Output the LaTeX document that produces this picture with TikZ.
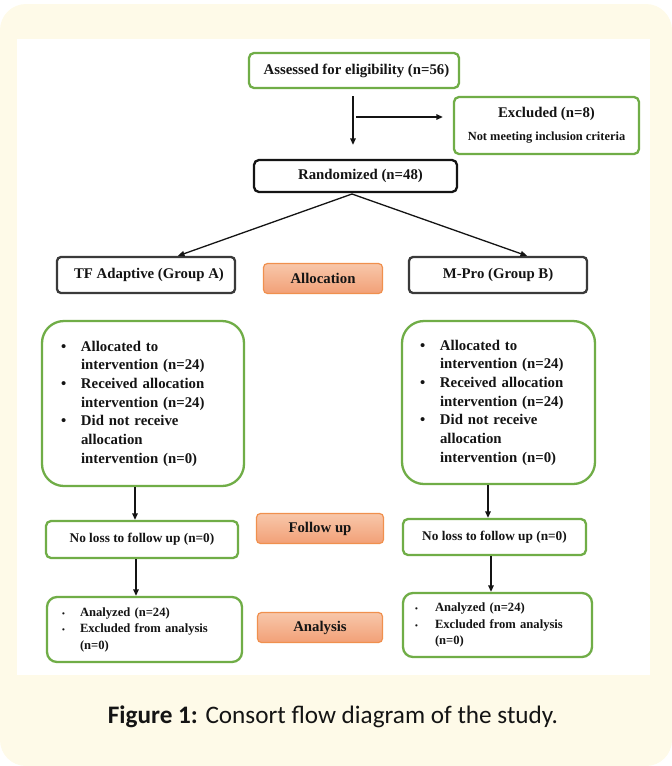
\documentclass[tikz,border=0pt]{standalone}
\usepackage{fontspec}
\setmainfont{Liberation Serif}
\newfontfamily\capfont{Carlito}
\usetikzlibrary{arrows.meta,calc}
\definecolor{cream}{HTML}{FEFAE8}
\definecolor{cgreen}{HTML}{70AD47}
\definecolor{txt}{HTML}{141414}
\definecolor{dgray}{HTML}{3A3A3A}
\definecolor{oborder}{HTML}{F0904E}
\definecolor{otop}{HTML}{F8C7AA}
\definecolor{obot}{HTML}{F2A077}
\newcommand{\fbig}{\fontsize{14.8}{18.7}\selectfont}
\newcommand{\fsmall}{\fontsize{12.6}{16.5}\selectfont}
\begin{document}
\begin{tikzpicture}[x=1pt,y=-1pt,
  basebox/.style={fill=white, line width=2.3pt, inner sep=0pt, text=txt, font=\bfseries\fbig},
  gbox/.style={basebox, draw=cgreen, rounded corners=5pt},
  kbox/.style={basebox, draw=txt, rounded corners=5pt},
  tbox/.style={basebox, draw=dgray, rounded corners=4pt},
  obox/.style={draw=oborder, line width=1.2pt, top color=otop, bottom color=obot, rounded corners=4pt, inner sep=0pt, text=txt, font=\bfseries\fbig},
  bigbox/.style={gbox, rounded corners=22pt, align=left, inner xsep=19pt},
  anbox/.style={gbox, rounded corners=10pt, align=left, inner xsep=15pt, font=\bfseries\fsmall},
  conn/.style={draw=txt, line width=1.3pt},
  arr/.style={conn, -{Triangle[length=6.5pt,width=5.5pt]}}
]
\useasboundingbox (0,0) rectangle (672,766);
\fill[cream, rounded corners=26pt] (0,4) rectangle (672,766);
\fill[white] (17,39) rectangle (650,675);

% top
\node[gbox, minimum width=210pt, minimum height=35pt] (assess) at (354,70.5) {\hspace{5pt}Assessed for eligibility (n=56)};
\node[gbox, minimum width=185pt, minimum height=57pt, align=center] (excl) at (546.5,125.5)
  {Excluded (n=8)\\[4pt]{\fontsize{12.4}{14}\selectfont Not meeting inclusion criteria}};
\node[kbox, minimum width=203pt, minimum height=32pt] (rand) at (355.5,176) {\hspace{10pt}Randomized (n=48)};

\coordinate (xa) at (353,0);
\coordinate (br) at (353,117);
\draw[arr, shorten <=7pt, shorten >=14pt] (assess.south -| xa) -- (rand.north -| xa);
\draw[arr, shorten <=3pt, shorten >=10pt] (br) -- (excl.west |- br);

% allocation row
\node[tbox, minimum width=178pt, minimum height=36pt] (tf) at (146,275) {\hspace{6pt}TF Adaptive (Group A)};
\node[obox, minimum width=119pt, minimum height=30pt] (alloc) at (323,278.5) {Allocation};
\node[tbox, minimum width=178pt, minimum height=36pt] (mpro) at (498,275) {M-Pro (Group B)};

\coordinate (rs) at (352,194);
\draw[arr] (rs) -- ($(tf.north)+(32,0)$);
\draw[arr] (rs) -- ($(mpro.north)+(29,0)$);

% big boxes
\node[bigbox, minimum width=202pt, minimum height=165pt, text width=164pt] (lbig) at (143,403.5)
 {\begin{tabular}{@{}p{20pt}@{}l@{}}
  \textbullet & Allocated to\\
   & intervention (n=24)\\
  \textbullet & Received allocation\\
   & intervention (n=24)\\
  \textbullet & Did not receive\\
   & allocation\\
   & intervention (n=0)
  \end{tabular}};
\node[bigbox, minimum width=193pt, minimum height=163pt, text width=157pt, inner xsep=17pt] (rbig) at (498.5,402.5)
 {\begin{tabular}{@{}p{20pt}@{}l@{}}
  \textbullet & Allocated to\\
   & intervention (n=24)\\
  \textbullet & Received allocation\\
   & intervention (n=24)\\
  \textbullet & Did not receive\\
   & allocation\\
   & intervention (n=0)
  \end{tabular}};

% follow up row
\node[gbox, minimum width=192pt, minimum height=37pt, font=\bfseries\fontsize{13.3}{16}\selectfont] (lnl) at (142,539.5) {No loss to follow up (n=0)};
\node[obox, minimum width=127pt, minimum height=30pt] (follow) at (320,528.5) {Follow up};
\node[gbox, minimum width=183pt, minimum height=36pt, font=\bfseries\fontsize{13.3}{16}\selectfont] (rnl) at (494.5,537) {No loss to follow up (n=0)};

% analysis row
\node[anbox, minimum width=195pt, minimum height=65pt, text width=165pt] (lan) at (144.5,629.5)
 {\begin{tabular}{@{}p{18pt}@{}l@{}}
  {\footnotesize\textbullet} & Analyzed (n=24)\\
  {\footnotesize\textbullet} & Excluded from analysis\\
   & (n=0)
  \end{tabular}};
\node[obox, minimum width=125pt, minimum height=30pt] (anal) at (320,627.5) {Analysis};
\node[anbox, minimum width=189pt, minimum height=64pt, text width=165pt, inner xsep=12pt] (ran) at (497.5,625)
 {\begin{tabular}{@{}p{20pt}@{}l@{}}
  {\footnotesize\textbullet} & Analyzed (n=24)\\
  {\footnotesize\textbullet} & Excluded from analysis\\
   & (n=0)
  \end{tabular}};

\coordinate (x1) at (135,0);
\coordinate (x2) at (136,0);
\coordinate (x3) at (488,0);
\coordinate (x4) at (491,0);
\draw[arr] (lbig.south -| x1) -- (lnl.north -| x1);
\draw[arr] (lnl.south -| x2) -- (lan.north -| x2);
\draw[arr] (rbig.south -| x3) -- (rnl.north -| x3);
\draw[arr] (rnl.south -| x4) -- (ran.north -| x4);

% caption
\node[text=txt, font=\capfont\fontsize{25.2}{29}\selectfont] (cap) at (333,717) {\textbf{Figure 1:} Consort flow diagram of the study.};
\end{tikzpicture}
\end{document}
